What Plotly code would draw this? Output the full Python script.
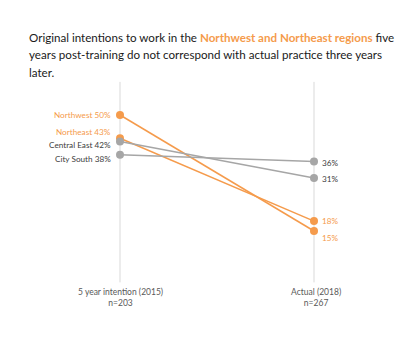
import plotly.graph_objects as go

# Data
regions = ["Northwest", "Northeast", "Central East", "City South"]
intention_2015 = [50, 43, 42, 38]
actual_2018 = [15, 18, 31, 36]
x_labels = ["5 year intention (2015)<br>n=203", "Actual (2018)<br>n=267"]

ORANGE = "#F59B4C"
GRAY = "#A6A6A6"
colors = [ORANGE, ORANGE, GRAY, GRAY]
text_colors = [ORANGE, ORANGE, "#404040", "#404040"]
left_shift = [0, 6, -3, -4]
right_shift = [-7, 0, -1, -2]

FONT = "Lato"
W, H = 414, 350

fig = go.Figure()
for r, a, b, c in zip(regions, intention_2015, actual_2018, colors):
    fig.add_trace(go.Scatter(
        x=[0, 1], y=[a, b], mode="lines+markers",
        line=dict(color=c, width=1.5),
        marker=dict(color=c, size=8),
        name=r, showlegend=False, hoverinfo="skip"))

# vertical reference lines
for xv in [0, 1]:
    fig.add_shape(type="line", xref="x", yref="y", x0=xv, x1=xv, y0=-0.5, y1=60,
                  line=dict(color="#D9D9D9", width=1), layer="below")

for r, a, b, tc, ls, rs in zip(regions, intention_2015, actual_2018, text_colors, left_shift, right_shift):
    fig.add_annotation(x=0, y=a, xref="x", yref="y", text=f"{r} {a}%",
                       showarrow=False, xanchor="right", yanchor="middle",
                       xshift=-7, yshift=ls, font=dict(family=FONT, size=8.2, color=tc))
    fig.add_annotation(x=1, y=b, xref="x", yref="y", text=f"{b}%",
                       showarrow=False, xanchor="left", yanchor="middle",
                       xshift=6, yshift=rs, font=dict(family=FONT, size=8.2, color=tc))

for xv, lab, xs in zip([0, 1], x_labels, [0, 2]):
    fig.add_annotation(x=xv, y=-1.2, xref="x", yref="y", text=lab, showarrow=False,
                       xanchor="center", yanchor="top", xshift=xs,
                       font=dict(family=FONT, size=8.5, color="#595959"))

title_lines = [
    "Original intentions to work in the "
    f"<span style='color:{ORANGE}'><b>Northwest and Northeast regions</b></span> five",
    "years post-training do not correspond with actual practice three years",
    "later.",
]
for i, line in enumerate(title_lines):
    fig.add_annotation(x=27 / W, y=1 - (37 + 17.5 * i) / H, xref="paper", yref="paper",
                       text=line, showarrow=False, xanchor="left", yanchor="middle",
                       align="left", font=dict(family=FONT, size=11.6, color="#1a1a1a"))

fig.update_layout(
    width=W, height=H,
    margin=dict(l=0, r=0, t=0, b=0),
    paper_bgcolor="white", plot_bgcolor="white",
    xaxis=dict(range=[-0.6186, 1.5155], visible=False, fixedrange=True),
    yaxis=dict(range=[-20.9, 84.7], visible=False, fixedrange=True),
)
fig.write_html("out.html")
